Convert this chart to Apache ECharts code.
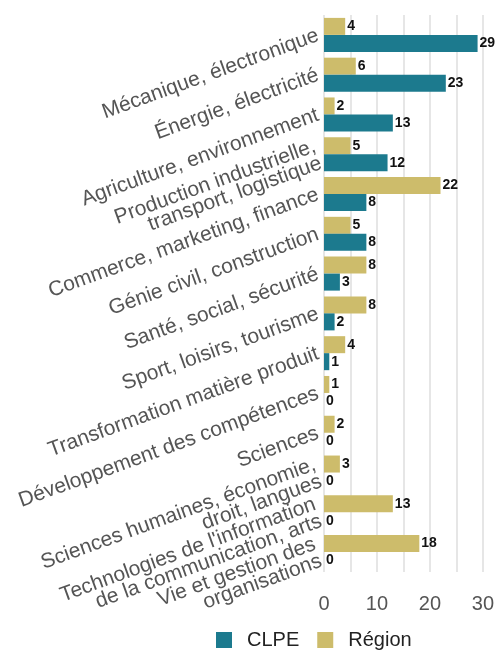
<!DOCTYPE html>
<html>
<head>
<meta charset="utf-8">
<script src="https://cdn.jsdelivr.net/npm/echarts@6/dist/echarts.min.js"></script>
<style>
  html, body { margin: 0; padding: 0; background: #fff; }
  #chart { width: 497px; height: 650px; }
</style>
</head>
<body>
<div id="chart"></div>
<script>
// Domaines de formation, du haut vers le bas
const categories = [
  'Mécanique, électronique',
  'Énergie, électricité',
  'Agriculture, environnement',
  'Production industrielle,\ntransport, logistique',
  'Commerce, marketing, finance',
  'Génie civil, construction',
  'Santé, social, sécurité',
  'Sport, loisirs, tourisme',
  'Transformation matière produit',
  'Développement des compétences',
  'Sciences',
  'Sciences humaines, économie,\ndroit, langues',
  "Technologies de l'information\nde la communication, arts",
  'Vie et gestion des\norganisations'
];
const clpeValues   = [29, 23, 13, 12, 8, 8, 3, 2, 1, 0, 0, 0, 0, 0];
const regionValues = [4, 6, 2, 5, 22, 5, 8, 8, 4, 1, 2, 3, 13, 18];
const xTicks = [0, 10, 20, 30];

const COLOR_CLPE = '#1c7a8e';
const COLOR_REGION = '#cdbc6b';
const FONT = '"Liberation Sans", Arial, sans-serif';

const valueLabel = {
  show: true,
  position: 'right',
  distance: 2,
  color: '#111',
  fontWeight: 'bold',
  fontSize: 14,
  fontFamily: FONT
};

const chart = echarts.init(document.getElementById('chart'), null, { renderer: 'canvas' });
chart.setOption({
  animation: false,
  textStyle: { fontFamily: FONT },
  grid: { left: 324, right: 12, top: 15, bottom: 78, containLabel: false },
  legend: {
    data: ['CLPE', 'Région'],
    left: 211,
    top: 625,
    itemWidth: 16,
    itemHeight: 16,
    itemGap: 18,
    icon: 'rect',
    textStyle: { fontSize: 20, color: '#222', fontFamily: FONT, padding: [0, 0, 0, 10] }
  },
  xAxis: {
    type: 'value',
    min: 0,
    max: 30,
    interval: 5,
    axisLine: { show: false },
    axisTick: { show: false },
    splitLine: { show: true, lineStyle: { color: '#e6e6e6', width: 2 } },
    axisLabel: {
      fontSize: 20,
      fontFamily: FONT,
      color: '#555',
      margin: 22,
      formatter: v => (xTicks.indexOf(v) >= 0 ? String(v) : '')
    }
  },
  yAxis: {
    type: 'category',
    data: categories,
    inverse: true,
    axisLine: { show: false },
    axisTick: { show: false },
    axisLabel: {
      rotate: 20,
      fontSize: 21,
      fontFamily: FONT,
      lineHeight: 18,
      color: '#555',
      margin: 6,
      align: 'right',
      interval: 0
    }
  },
  series: [
    {
      name: 'Région',
      type: 'bar',
      data: regionValues,
      barWidth: 17,
      barGap: '0%',
      itemStyle: { color: COLOR_REGION },
      label: valueLabel
    },
    {
      name: 'CLPE',
      type: 'bar',
      data: clpeValues,
      barWidth: 17,
      barGap: '0%',
      itemStyle: { color: COLOR_CLPE },
      label: valueLabel
    }
  ]
});
</script>
</body>
</html>
